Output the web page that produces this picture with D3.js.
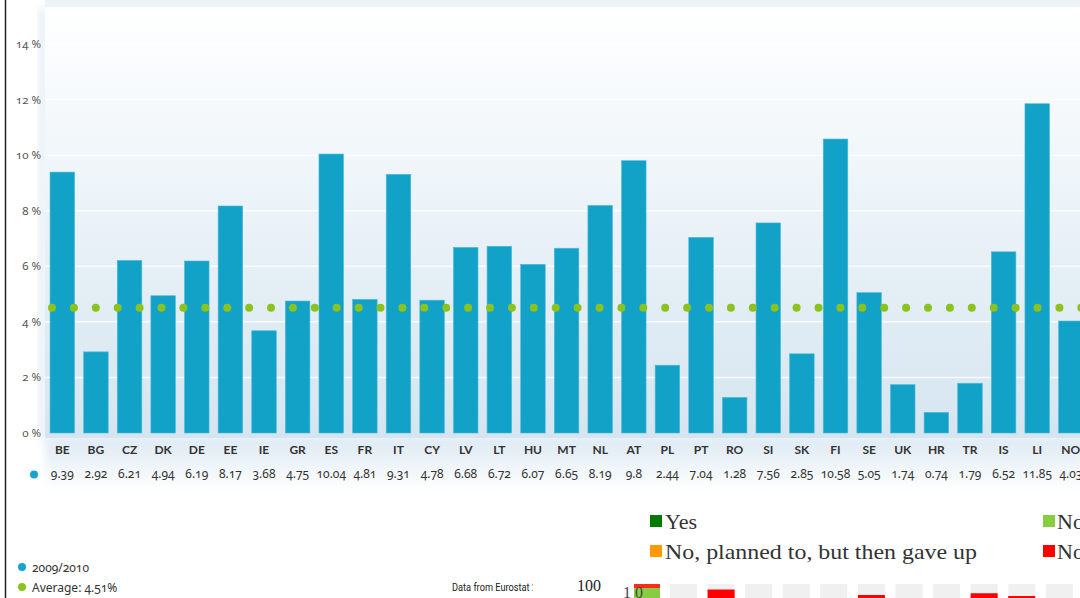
<!DOCTYPE html>
<html>
<head>
<meta charset="utf-8">
<script src="https://cdn.jsdelivr.net/npm/d3@7"></script>
<style>
  html, body { margin: 0; padding: 0; background: #fff; overflow: hidden; }
  svg { display: block; }
</style>
</head>
<body>
<svg id="chart" width="1080" height="598"></svg>
<script>
// Main chart data
const countries = ["BE","BG","CZ","DK","DE","EE","IE","GR","ES","FR","IT","CY","LV","LT","HU","MT","NL","AT","PL","PT","RO","SI","SK","FI","SE","UK","HR","TR","IS","LI","NO"];
const shares = [9.39,2.92,6.21,4.94,6.19,8.17,3.68,4.75,10.04,4.81,9.31,4.78,6.68,6.72,6.07,6.65,8.19,9.8,2.44,7.04,1.28,7.56,2.85,10.58,5.05,1.74,0.74,1.79,6.52,11.85,4.03];
const shareLabels = ["9.39","2.92","6.21","4.94","6.19","8.17","3.68","4.75","10.04","4.81","9.31","4.78","6.68","6.72","6.07","6.65","8.19","9.8","2.44","7.04","1.28","7.56","2.85","10.58","5.05","1.74","0.74","1.79","6.52","11.85","4.03"];
const average = 4.51;
const yTicks = [0, 2, 4, 6, 8, 10, 12, 14];

// Overlapping second chart (partially visible)
const legend2Left = [{ label: "Yes", color: "#007a00" }, { label: "No, planned to, but then gave up", color: "#ff9900" }];
const legend2Right = [{ label: "No", color: "#88cc44" }, { label: "No", color: "#ff0000" }];
const redTops = [null, 97.8, null, null, null, 95.6, null, null, 96.3, 95.2, null, 96.9];

const svg = d3.select("#chart");
const defs = svg.append("defs");

const bg = defs.append("linearGradient").attr("id", "bg").attr("x1", 0).attr("y1", 0).attr("x2", 0).attr("y2", 1);
bg.append("stop").attr("offset", "0%").attr("stop-color", "#ffffff");
bg.append("stop").attr("offset", "100%").attr("stop-color", "#d5e5f0");

const glow = defs.append("linearGradient").attr("id", "glow").attr("x1", 0).attr("y1", 0).attr("x2", 0).attr("y2", 1);
glow.append("stop").attr("offset", "0%").attr("stop-color", "#dce9f3");
glow.append("stop").attr("offset", "100%").attr("stop-color", "#ffffff");

defs.append("filter").attr("id", "blur").append("feGaussianBlur").attr("stdDeviation", 4);

defs.append("clipPath").attr("id", "srcClip")
  .append("rect").attr("x", 440).attr("y", 570).attr("width", 93).attr("height", 30);

const x = d3.scaleBand()
  .domain(countries)
  .range([45, 45 + 33.65 * 31])
  .paddingInner(0.27)
  .paddingOuter(0.15);

const y = d3.scaleLinear().domain([0, 14]).range([433, 44]);

// Top band and plot background
svg.append("rect").attr("x", 45).attr("y", 0).attr("width", 1040).attr("height", 7).attr("fill", "#eef3f8");
svg.append("rect").attr("x", 38).attr("y", 8).attr("width", 10).attr("height", 430)
  .attr("fill", "#e8f0f6").attr("filter", "url(#blur)");
svg.append("rect").attr("x", 45).attr("y", 436).attr("width", 1040).attr("height", 56)
  .attr("fill", "url(#glow)").attr("filter", "url(#blur)");
svg.append("rect").attr("x", 45).attr("y", 8).attr("width", 1040).attr("height", 430).attr("fill", "url(#bg)");

// Gridlines
svg.append("g").selectAll("line").data(yTicks.filter(d => d > 0)).join("line")
  .attr("x1", 45).attr("x2", 1085)
  .attr("y1", d => y(d)).attr("y2", d => y(d))
  .attr("stroke", "#ffffff").attr("stroke-opacity", 0.8).attr("stroke-width", 1.5);

// Y axis labels
svg.append("g").selectAll("text").data(yTicks).join("text")
  .attr("x", 41).attr("y", d => y(d) + 4)
  .attr("text-anchor", "end")
  .attr("font-family", "'Noto Sans', sans-serif")
  .style("font-variant-numeric", "oldstyle-nums")
  .attr("font-size", 11.5).attr("fill", "#555")
  .text(d => `${d} %`);

// Bars
svg.append("g").selectAll("rect").data(countries).join("rect")
  .attr("x", d => x(d))
  .attr("width", x.bandwidth())
  .attr("y", (d, i) => y(shares[i]))
  .attr("height", (d, i) => y(0) - y(shares[i]))
  .attr("fill", "#12a2c8")
  .attr("stroke", "#4dbad9").attr("stroke-width", 0.6);

// Average dotted line
svg.append("line")
  .attr("x1", 52).attr("x2", 1085)
  .attr("y1", y(average)).attr("y2", y(average))
  .attr("stroke", "#8cc21c").attr("stroke-width", 8)
  .attr("stroke-linecap", "round").attr("stroke-dasharray", "0 21.9");

// Category labels
svg.append("g").selectAll("text").data(countries).join("text")
  .attr("x", d => x(d) + x.bandwidth() / 2).attr("y", 454)
  .attr("text-anchor", "middle")
  .attr("font-family", "Lato, 'Open Sans', sans-serif")
  .attr("font-weight", "bold").attr("font-size", 12).attr("fill", "#333")
  .text(d => d);

// Value row
svg.append("circle").attr("cx", 34).attr("cy", 474.5).attr("r", 4).attr("fill", "#1aa3cc");
svg.append("g").selectAll("text").data(countries).join("text")
  .attr("x", d => x(d) + x.bandwidth() / 2).attr("y", 478)
  .attr("text-anchor", "middle")
  .attr("font-family", "'Noto Sans', Lato, sans-serif")
  .style("font-variant-numeric", "oldstyle-nums")
  .attr("font-size", 12).attr("fill", "#333")
  .text((d, i) => shareLabels[i]);

// Left legend
const leg = svg.append("g").attr("font-family", "'Noto Sans', Lato, sans-serif").attr("font-size", 12).attr("fill", "#333");
leg.append("circle").attr("cx", 22).attr("cy", 567).attr("r", 4).attr("fill", "#1aa3cc");
leg.append("text").attr("x", 32).attr("y", 572).style("font-variant-numeric", "oldstyle-nums").text("2009/2010");
leg.append("circle").attr("cx", 22).attr("cy", 587).attr("r", 4).attr("fill", "#8cc21c");
leg.append("text").attr("x", 32).attr("y", 592).style("font-variant-numeric", "oldstyle-nums").text(`Average: ${average}%`);

// Left frame line
svg.append("line").attr("x1", 5.5).attr("x2", 5.5).attr("y1", 0).attr("y2", 598)
  .attr("stroke", "#222").attr("stroke-width", 1.5);

// Source note (cut off by the overlapping chart)
svg.append("g").attr("clip-path", "url(#srcClip)")
  .append("text").attr("x", 452).attr("y", 591)
  .attr("font-family", "Roboto, sans-serif").attr("font-size", 10.5).attr("fill", "#222")
  .attr("transform", "translate(452,0) scale(0.88,1) translate(-452,0)")
  .text("Data from Eurostat 2010");

// Overlapping second chart legend
const l2 = svg.append("g").attr("font-family", "'Liberation Serif', 'DejaVu Serif', serif").attr("font-size", 22).attr("fill", "#333");
legend2Left.forEach((d, i) => {
  l2.append("rect").attr("x", 650).attr("y", 515 + i * 30).attr("width", 12).attr("height", 12).attr("fill", d.color);
  l2.append("text").attr("x", 665).attr("y", 529 + i * 30)
    .attr("textLength", i === 1 ? 312 : null).attr("lengthAdjust", "spacingAndGlyphs")
    .text(d.label);
});
legend2Right.forEach((d, i) => {
  l2.append("rect").attr("x", 1043).attr("y", 515 + i * 30).attr("width", 12).attr("height", 12).attr("fill", d.color);
  l2.append("text").attr("x", 1057).attr("y", 529 + i * 30).text(d.label);
});

// Overlapping second chart columns
const x2 = d3.scaleBand().domain(d3.range(redTops.length)).range([670, 670 + 36.7 * redTops.length]).paddingInner(0.28).paddingOuter(0);
const y2 = d3.scaleLinear().domain([0, 100]).range([834, 584]);

svg.append("text").attr("x", 577).attr("y", 591)
  .attr("font-family", "'Liberation Serif', serif").attr("font-size", 16).attr("fill", "#222").text("100");

svg.append("rect").attr("x", 634).attr("y", y2(100)).attr("width", 26).attr("height", 4).attr("fill", "#ff2a1a");
svg.append("rect").attr("x", 634).attr("y", y2(98.4)).attr("width", 26).attr("height", 20).attr("fill", "#88cc44");
svg.append("text").attr("x", 623).attr("y", 598)
  .attr("font-family", "'Liberation Serif', serif").attr("font-size", 16).attr("fill", "#444").text("1 0");

const cols = svg.append("g");
cols.selectAll("rect.bgc").data(redTops).join("rect").attr("class", "bgc")
  .attr("x", (d, i) => x2(i)).attr("width", x2.bandwidth())
  .attr("y", y2(100)).attr("height", 20).attr("fill", "#f0f0f0");
cols.selectAll("rect.red").data(redTops.map((d, i) => ({ d, i })).filter(o => o.d !== null)).join("rect").attr("class", "red")
  .attr("x", o => x2(o.i)).attr("width", x2.bandwidth())
  .attr("y", o => y2(o.d)).attr("height", 20).attr("fill", "#ff0000");
</script>
</body>
</html>
